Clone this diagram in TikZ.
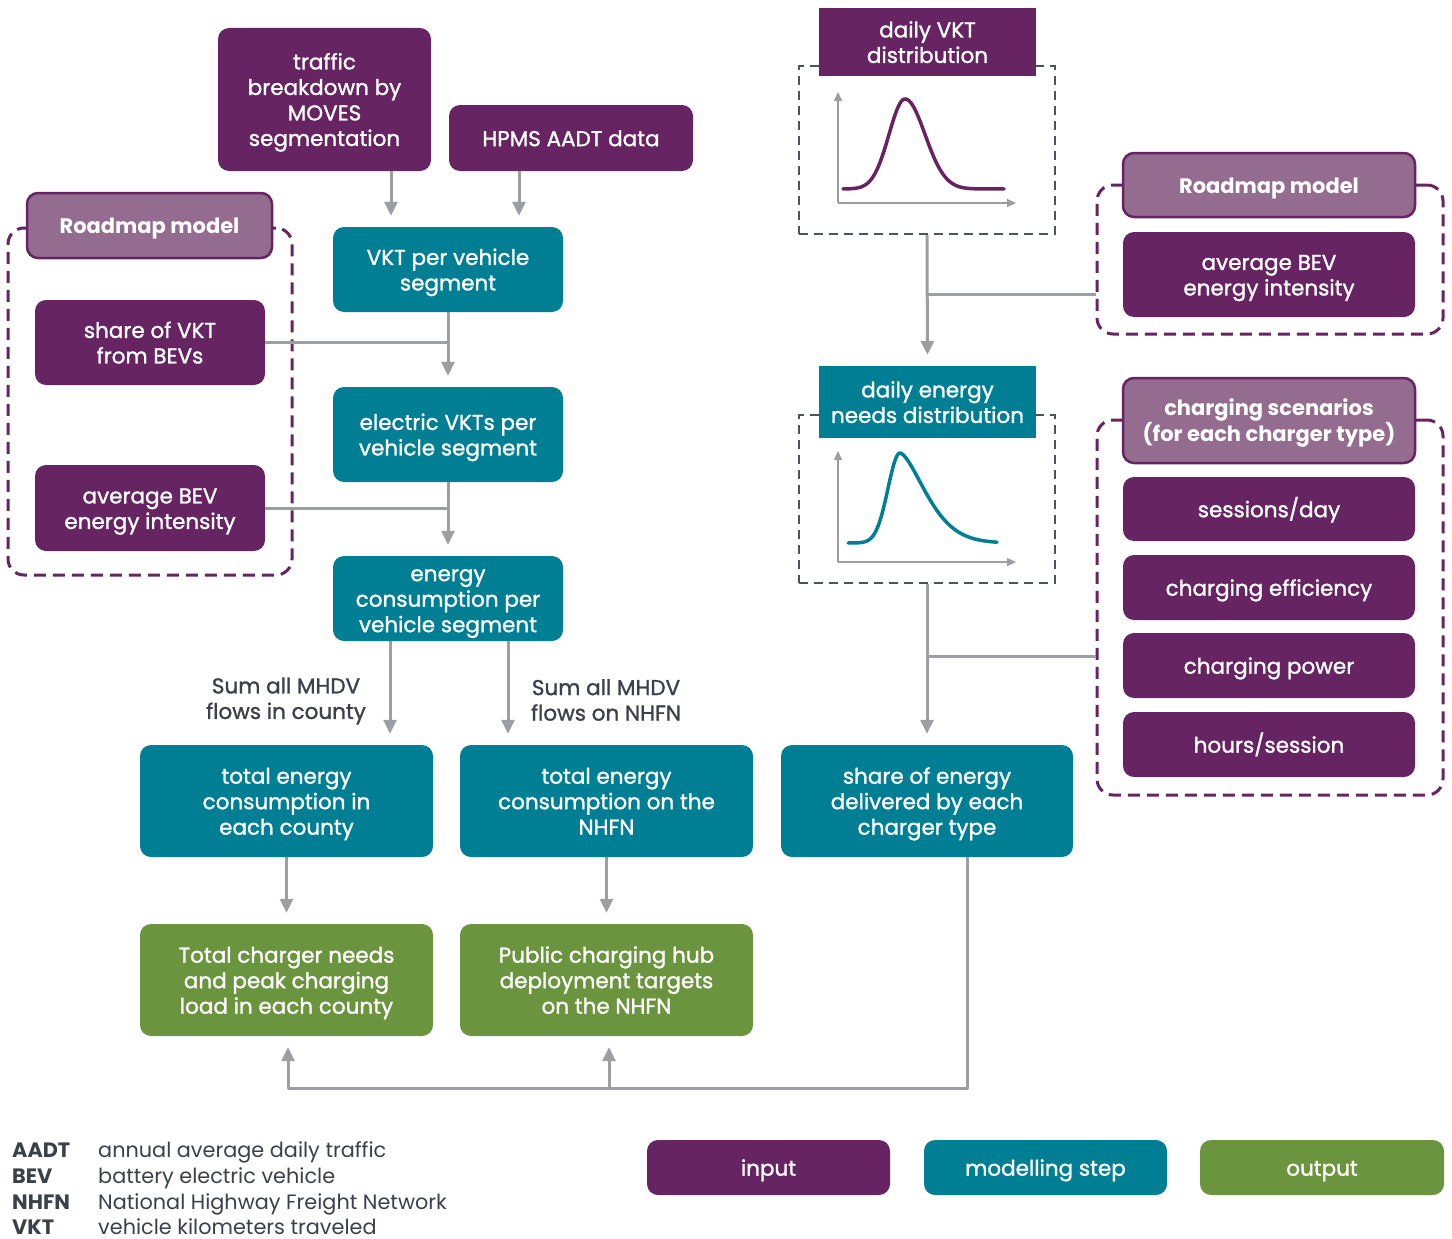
\documentclass[tikz,border=0pt]{standalone}
\usepackage{fontspec}
\setmainfont{Poppins}
\newfontfamily\medfont{Poppins}[FakeBold=1.2]
\usetikzlibrary{arrows.meta}
\definecolor{cpurple}{HTML}{662463}
\definecolor{clight}{HTML}{946C8F}
\definecolor{cteal}{HTML}{007E94}
\definecolor{cgreen}{HTML}{6A943E}
\definecolor{cgray}{HTML}{9D9EA3}
\definecolor{cdark}{HTML}{3C4048}
\definecolor{cframe}{HTML}{4D5359}
\newcommand\Tl{\rule{0pt}{24pt}}
\newcommand\Bl{\strut}
\begin{document}
\begin{tikzpicture}[x=1pt,y=-1pt,
 boxtext/.style={font=\medfont\fontsize{21.5}{25.5}\selectfont},
 box/.style={rounded corners=11pt, text=white, align=center, inner sep=0pt, boxtext,
   execute at begin node={\rule{0pt}{24pt}}, execute at end node=\strut},
 inbox/.style={box, fill=cpurple},
 stepbox/.style={box, fill=cteal},
 outbox/.style={box, fill=cgreen},
 headbox/.style={box, fill=clight, draw=cpurple, line width=2.5pt, font=\bfseries\fontsize{21}{25.5}\selectfont},
 sqbox/.style={box, rounded corners=0pt},
 frame/.style={draw=cpurple, dash pattern=on 12pt off 7pt, line width=3pt, rounded corners=16pt, inner sep=0pt},
 plotframe/.style={draw=cframe, dash pattern=on 9pt off 6pt, line width=2pt, inner sep=0pt},
 conn/.style={draw=cgray, line width=3pt, line join=round},
 arr/.style={conn, shorten >=11pt, -{Triangle[width=13pt,length=14pt]}},
 axis/.style={draw=cgray, line width=1.5pt, -{Triangle[width=8pt,length=9pt]}},
 lbl/.style={text=cdark, align=center, boxtext},
 abbr/.style={anchor=base west, inner sep=0pt, text=cdark, font=\bfseries\fontsize{20.8}{23}\selectfont},
 abtext/.style={anchor=base west, inner sep=0pt, text=cdark, font=\fontsize{20.8}{23}\selectfont},
 declare function={
   sA(\t)=(\t<905)*16+(\t>=905)*20;
   bA(\t)=189-90*exp(-0.5*((\t-905)/sA(\t))*((\t-905)/sA(\t)));
   bBl(\t)=543-90*exp(-0.5*((\t-900)/12)*((\t-900)/12));
   bBr(\t)=543-90*exp(-((abs(\t-900)+0.001)/36.5)^1.58);
   bB(\t)=(\t<900)*bBl(\t)+(\t>=900)*bBr(\t);
 }
]
\fill[white] (0,0) rectangle (1452,1239);
\useasboundingbox (0,0) rectangle (1452,1239);

% frames
\node[frame, minimum width=284pt, minimum height=347pt] (fr1) at (150,401.5) {};
\node[plotframe, minimum width=256pt, minimum height=168pt] (frA) at (927,150) {};
\node[frame, minimum width=346pt, minimum height=149pt] (fr2) at (1270,259.5) {};
\node[plotframe, minimum width=256pt, minimum height=168pt] (frB) at (927,499) {};
\node[frame, minimum width=346pt, minimum height=375pt] (fr3) at (1270,607.5) {};

% central column
\node[inbox, minimum width=213pt, minimum height=143pt] (traffic) at (324.5,99.5) {\Tl traffic\\breakdown by\\MOVES\\segmentation\Bl};
\node[inbox, minimum width=244pt, minimum height=66pt] (hpms) at (571,138) {HPMS AADT data};
\node[stepbox, minimum width=230pt, minimum height=85pt] (vkt) at (448,269.5) {\Tl VKT per vehicle\\segment\Bl};
\node[stepbox, minimum width=230pt, minimum height=95pt] (evkt) at (448,434.5) {\Tl electric VKTs per\\vehicle segment\Bl};
\node[stepbox, minimum width=230pt, minimum height=85pt] (econs) at (448,598.5) {\Tl energy\\consumption per\\vehicle segment\Bl};
\node[stepbox, minimum width=293pt, minimum height=112pt] (tcounty) at (286.5,801) {\Tl total energy\\consumption in\\each county\Bl};
\node[stepbox, minimum width=293pt, minimum height=112pt] (tnhfn) at (606.5,801) {\Tl total energy\\consumption on the\\NHFN\Bl};
\node[stepbox, minimum width=292pt, minimum height=112pt] (share) at (927,801) {\Tl share of energy\\delivered by each\\charger type\Bl};
\node[outbox, minimum width=293pt, minimum height=112pt] (gcounty) at (286.5,980) {\Tl Total charger needs\\and peak charging\\load in each county\Bl};
\node[outbox, minimum width=293pt, minimum height=112pt] (gnhfn) at (606.5,980) {\Tl Public charging hub\\deployment targets\\on the NHFN\Bl};

% left group
\node[headbox, minimum width=245pt, minimum height=65pt] (rm1) at (149.5,225.5) {Roadmap model};
\node[inbox, minimum width=230pt, minimum height=85pt] (sharevkt) at (150,342.5) {\Tl share of VKT\\from BEVs\Bl};
\node[inbox, minimum width=230pt, minimum height=86pt] (bev1) at (150,508) {\Tl average BEV\\energy intensity\Bl};

% right groups
\node[sqbox, fill=cpurple, minimum width=217pt, minimum height=68pt] (vktdist) at (927.5,42) {\Tl daily VKT\\distribution\Bl};
\node[sqbox, fill=cteal, minimum width=217pt, minimum height=72pt] (endist) at (927.5,402) {\Tl daily energy\\needs distribution\Bl};
\node[headbox, minimum width=292pt, minimum height=64pt] (rm2) at (1269,185) {Roadmap model};
\node[inbox, minimum width=292pt, minimum height=85pt] (bev2) at (1269,274.5) {\Tl average BEV\\energy intensity\Bl};
\node[headbox, minimum width=292pt, minimum height=85pt] (cs) at (1269,420.5) {\Tl charging scenarios\\(for each charger type)\Bl};
\node[inbox, minimum width=292pt, minimum height=64pt] (sess) at (1269,509) {sessions/day};
\node[inbox, minimum width=292pt, minimum height=65pt] (eff) at (1269,587.5) {charging efficiency};
\node[inbox, minimum width=292pt, minimum height=65pt] (pow) at (1269,665.5) {charging power};
\node[inbox, minimum width=292pt, minimum height=65pt] (hrs) at (1269,744.5) {hours/session};

% plots
\coordinate (oA) at (838,203);
\coordinate (yA) at (838,92);
\coordinate (xA) at (1016,203);
\draw[axis] (oA) -- (yA);
\draw[axis] (oA) -- (xA);
\draw[cpurple, line width=3.5pt, line cap=round] plot[domain=843:1004, samples=120, smooth] (\x,{bA(\x)});
\coordinate (oB) at (838,562);
\coordinate (yB) at (838,451);
\coordinate (xB) at (1016,562);
\draw[axis] (oB) -- (yB);
\draw[axis] (oB) -- (xB);
\draw[cteal, line width=3.5pt, line cap=round] plot[domain=848:997, samples=120, smooth] (\x,{bB(\x)});

% connectors
\coordinate (x391) at (391,0);
\coordinate (x519) at (519,0);
\coordinate (x390) at (390,0);
\coordinate (x508) at (508,0);
\coordinate (x288) at (288,0);
\coordinate (x609) at (609,0);
\coordinate (y294) at (0,294);
\coordinate (y656) at (0,656);
\coordinate (jn) at (967,1088);
\draw[arr] (traffic.south -| x391) -- (vkt.north -| x391);
\draw[arr] (hpms.south -| x519) -- (vkt.north -| x519);
\draw[arr] (vkt.south) -- (evkt.north);
\draw[conn] (sharevkt.east) -- (sharevkt.east -| vkt.south);
\draw[arr] (evkt.south) -- (econs.north);
\draw[conn] (bev1.east) -- (bev1.east -| evkt.south);
\draw[arr] (econs.south -| x390) -- (tcounty.north -| x390);
\draw[arr] (econs.south -| x508) -- (tnhfn.north -| x508);
\draw[arr] (tcounty.south) -- (gcounty.north);
\draw[arr] (tnhfn.south) -- (gnhfn.north);
\draw[arr] (share.south -| jn) -- (jn) -- (jn -| x288) -- (gcounty.south -| x288);
\draw[arr] (jn -| x609) -- (gnhfn.south -| x609);
\draw[arr] (frA.south) -- (endist.north);
\draw[conn] (fr2.west |- y294) -- (frA.south |- y294);
\draw[arr] (frB.south) -- (share.north);
\draw[conn] (fr3.west |- y656) -- (frB.south |- y656);

% labels
\node[lbl] (lab1) at (286,701) {Sum all MHDV\\flows in county};
\node[lbl] (lab2) at (606,700) {Sum all MHDV\\flows on NHFN};

% legend
\node[inbox, minimum width=243pt, minimum height=55pt] (leg1) at (768.5,1167.5) {input};
\node[stepbox, minimum width=243pt, minimum height=55pt] (leg2) at (1045.5,1167.5) {modelling step};
\node[outbox, minimum width=244pt, minimum height=55pt] (leg3) at (1322,1167.5) {output};

\node[abbr] (ab1) at (12,1157) {AADT};
\node[abtext] (ad1) at (98,1157) {annual average daily traffic};
\node[abbr] (ab2) at (12,1183) {BEV};
\node[abtext] (ad2) at (98,1183) {battery electric vehicle};
\node[abbr] (ab3) at (12,1209) {NHFN};
\node[abtext] (ad3) at (98,1209) {National Highway Freight Network};
\node[abbr] (ab4) at (12,1234) {VKT};
\node[abtext] (ad4) at (98,1234) {vehicle kilometers traveled};
\end{tikzpicture}
\end{document}
